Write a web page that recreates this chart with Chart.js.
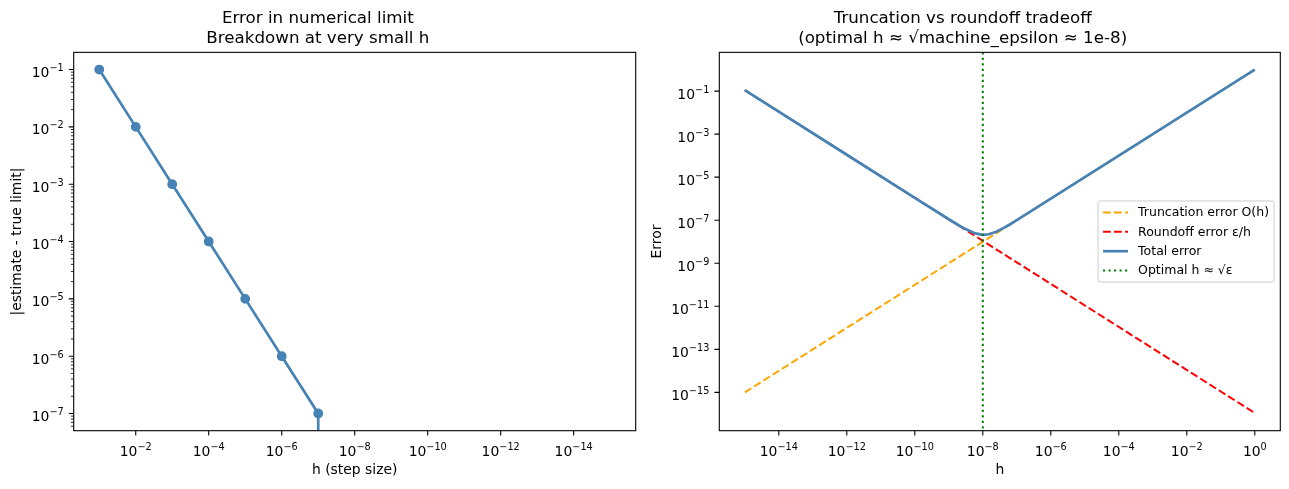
<!DOCTYPE html>
<html>
<head>
<meta charset="utf-8">
<script src="https://cdn.jsdelivr.net/npm/chart.js@4.4.1/dist/chart.umd.min.js"></script>
<style>
    body { margin: 0; background: #fff; }
    #wrap { position: relative; width: 1289px; height: 489px; }
    canvas { position: absolute; top: 0; }
</style>
</head>
<body>
<div id="wrap">
    <canvas id="limitChart" width="645" height="489" style="left:0"></canvas>
    <canvas id="tradeoffChart" width="644" height="489" style="left:645px"></canvas>
</div>
<script>
// 左图：数值极限误差
const limitH = [1e-1, 1e-2, 1e-3, 1e-4, 1e-5, 1e-6, 1e-7, 1e-8, 1e-9, 1e-10, 1e-11, 1e-12, 1e-13, 1e-14, 1e-15];
const limitErr = [1e-1, 1e-2, 1e-3, 1e-4, 1e-5, 1e-6, 1e-7, 0, 0, 0, 0, 0, 0, 0, 0];
const limitXTicks = [1e-2, 1e-4, 1e-6, 1e-8, 1e-10, 1e-12, 1e-14];
const limitYTicks = [1e-1, 1e-2, 1e-3, 1e-4, 1e-5, 1e-6, 1e-7];

// 右图：截断误差 vs 舍入误差
const lineH = [1e-15, 1];
const truncErr = [1e-15, 1];
const roundErr = [1.1e-1, 1.1e-16];
const totalH = [1e-15, 1e-12, 1e-10, 1e-9, 2e-9, 3e-9, 6e-9, 1e-8, 1.5e-8, 2.5e-8, 4e-8, 6e-8, 1e-7, 1e-6, 1e-3, 1];
const totalErr = [1.1e-1, 1.1e-4, 1.1e-6, 1.11e-7, 5.7e-8, 3.97e-8, 2.43e-8, 2.1e-8, 2.23e-8, 2.94e-8, 4.28e-8, 6.18e-8, 1.01e-7, 1e-6, 1e-3, 1];
const optimalH = 1e-8;
const tradeXTicks = [1e-14, 1e-12, 1e-10, 1e-8, 1e-6, 1e-4, 1e-2, 1];
const tradeYTicks = [1e-1, 1e-3, 1e-5, 1e-7, 1e-9, 1e-11, 1e-13, 1e-15];

const STEEL = '#4682B4';
const FONT = 'DejaVu Sans';
Chart.defaults.font.family = FONT;
Chart.defaults.color = '#000';

// 10^n 刻度标签（上标）
function drawPow(ctx, v, x, y, align) {
    const exp = Math.round(Math.log10(v));
    const base = '10';
    const sup = exp < 0 ? '\u2212' + Math.abs(exp) : String(exp);
    ctx.font = `13.9px "${FONT}"`;
    const wb = ctx.measureText(base).width;
    ctx.font = `9.7px "${FONT}"`;
    const ws = ctx.measureText(sup).width;
    const x0 = align === 'center' ? x - (wb + ws) / 2 : x - wb - ws;
    ctx.textAlign = 'left';
    ctx.textBaseline = 'alphabetic';
    ctx.font = `13.9px "${FONT}"`;
    ctx.fillText(base, x0, y);
    ctx.font = `9.7px "${FONT}"`;
    ctx.fillText(sup, x0 + wb, y - 6);
}

function drawLegend(chart) {
    const { ctx, chartArea: ca } = chart;
    const fs = 12.5;
    const items = chart.data.datasets;
    ctx.font = `${fs}px "${FONT}"`;
    const textW = Math.max(...items.map(d => ctx.measureText(d.label).width));
    const pad = 0.4 * fs, handleLen = 2 * fs, gap = 0.8 * fs, rowH = 13.1, spacing = 0.5 * fs;
    const w = pad + handleLen + gap + textW + pad;
    const h = 2 * pad + items.length * rowH + (items.length - 1) * spacing;
    const x0 = ca.right - 0.5 * fs - w;
    const y0 = (ca.top + ca.bottom) / 2 - h / 2;

    ctx.setLineDash([]);
    ctx.beginPath();
    ctx.roundRect(x0, y0, w, h, 2.5);
    ctx.fillStyle = 'rgba(255,255,255,0.8)';
    ctx.fill();
    ctx.strokeStyle = '#cccccc';
    ctx.lineWidth = 1;
    ctx.stroke();

    items.forEach((d, i) => {
        const cy = y0 + pad + rowH / 2 + i * (rowH + spacing);
        ctx.setLineDash(d.borderDash || []);
        ctx.strokeStyle = d.borderColor;
        ctx.lineWidth = d.borderWidth;
        ctx.beginPath();
        ctx.moveTo(x0 + pad, cy);
        ctx.lineTo(x0 + pad + handleLen, cy);
        ctx.stroke();
        ctx.setLineDash([]);
        ctx.fillStyle = '#000';
        ctx.textAlign = 'left';
        ctx.textBaseline = 'middle';
        ctx.fillText(d.label, x0 + pad + handleLen + gap, cy + 0.5);
    });
}

// matplotlib 风格的边框、刻度、标签
const mplAxes = {
    id: 'mplAxes',
    afterDatasetsDraw(chart, args, opts) {
        const { ctx, chartArea: ca } = chart;
        const xs = chart.scales.x, ys = chart.scales.y;
        ctx.save();
        ctx.strokeStyle = '#000';
        ctx.fillStyle = '#000';
        ctx.setLineDash([]);

        ctx.lineWidth = 1.1;
        ctx.beginPath();
        opts.xTicks.forEach(v => {
            const px = xs.getPixelForValue(v);
            ctx.moveTo(px, ca.bottom);
            ctx.lineTo(px, ca.bottom + 4.9);
        });
        opts.yTicks.forEach(v => {
            const py = ys.getPixelForValue(v);
            ctx.moveTo(ca.left - 4.9, py);
            ctx.lineTo(ca.left, py);
        });
        ctx.stroke();

        if (opts.yMinor) {
            ctx.lineWidth = 0.8;
            ctx.beginPath();
            for (let k = -8; k <= 0; k++) {
                for (let m = 2; m <= 9; m++) {
                    const v = m * Math.pow(10, k);
                    if (v < ys.min || v > ys.max) continue;
                    const py = ys.getPixelForValue(v);
                    ctx.moveTo(ca.left - 2.8, py);
                    ctx.lineTo(ca.left, py);
                }
            }
            ctx.stroke();
        }

        opts.xTicks.forEach(v => drawPow(ctx, v, xs.getPixelForValue(v), ca.bottom + 25, 'center'));
        opts.yTicks.forEach(v => drawPow(ctx, v, ca.left - 10, ys.getPixelForValue(v) + 7.5, 'right'));

        ctx.lineWidth = 1.1;
        ctx.strokeRect(ca.left, ca.top, ca.right - ca.left, ca.bottom - ca.top);

        if (opts.legend) drawLegend(chart);
        ctx.restore();
    }
};

function logScale(min, max, ticks, size, title, titlePad, extra) {
    return Object.assign({
        type: 'logarithmic',
        min: min,
        max: max,
        grid: { display: false },
        border: { display: false },
        ticks: { display: false },
        afterBuildTicks: s => { s.ticks = ticks.map(v => ({ value: v })); },
        title: { display: true, text: title, color: '#000', font: { size: 13.9 }, padding: titlePad }
    }, size, extra || {});
}

function titleOpts(lines) {
    return {
        display: true,
        text: lines,
        color: '#000',
        font: { size: 16.7, weight: 'normal', lineHeight: 1.22 },
        padding: { top: 8.1, bottom: 3.5 }
    };
}

new Chart(document.getElementById('limitChart'), {
    type: 'line',
    data: {
        datasets: [{
            label: 'error',
            // 对数轴上 0 值按 matplotlib 的方式裁剪到极小值
            data: limitH.map((h, i) => ({ x: h, y: limitErr[i] > 0 ? limitErr[i] : 1e-300 })),
            borderColor: STEEL,
            backgroundColor: STEEL,
            borderWidth: 2.7,
            pointRadius: limitErr.map(e => e > 0 ? 4.2 : 0),
            pointBorderWidth: limitErr.map(e => e > 0 ? 1.4 : 0),
            pointBorderColor: STEEL,
            pointBackgroundColor: STEEL
        }]
    },
    options: {
        responsive: false,
        animation: false,
        layout: { padding: { left: 0, right: 9.3, top: 0, bottom: 0 } },
        plugins: {
            legend: { display: false },
            tooltip: { enabled: false },
            title: titleOpts(['Error in numerical limit', 'Breakdown at very small h']),
            mplAxes: { xTicks: limitXTicks, yTicks: limitYTicks, yMinor: true }
        },
        scales: {
            x: logScale(Math.pow(10, -15.7), Math.pow(10, -0.3), limitXTicks,
                { afterFit: s => { s.height = 58.3; } }, 'h (step size)', { top: 0, bottom: 10 }, { reverse: true }),
            y: logScale(Math.pow(10, -7.3), Math.pow(10, -0.7), limitYTicks,
                { afterFit: s => { s.width = 73.7; } }, '|estimate - true limit|', { top: 8.7, bottom: 0 })
        }
    },
    plugins: [mplAxes]
});

const tradeYMin = Math.pow(10, -16.78), tradeYMax = Math.pow(10, 0.8);

new Chart(document.getElementById('tradeoffChart'), {
    type: 'line',
    data: {
        datasets: [{
            label: 'Truncation error O(h)',
            data: lineH.map((h, i) => ({ x: h, y: truncErr[i] })),
            borderColor: '#FFA500',
            borderWidth: 2,
            borderDash: [7.7, 3.3],
            pointRadius: 0,
            order: 4
        }, {
            label: 'Roundoff error \u03b5/h',
            data: lineH.map((h, i) => ({ x: h, y: roundErr[i] })),
            borderColor: '#FF0000',
            borderWidth: 2,
            borderDash: [7.7, 3.3],
            pointRadius: 0,
            order: 3
        }, {
            label: 'Total error',
            data: totalH.map((h, i) => ({ x: h, y: totalErr[i] })),
            borderColor: STEEL,
            borderWidth: 2.7,
            pointRadius: 0,
            order: 2
        }, {
            label: 'Optimal h \u2248 \u221a\u03b5',
            data: [{ x: optimalH, y: tradeYMax }, { x: optimalH, y: tradeYMin }],
            borderColor: '#008000',
            borderWidth: 2,
            borderDash: [2.1, 3.4],
            pointRadius: 0,
            order: 1
        }]
    },
    options: {
        responsive: false,
        animation: false,
        layout: { padding: { left: 0, right: 8.7, top: 0, bottom: 0 } },
        plugins: {
            legend: { display: false },
            tooltip: { enabled: false },
            title: titleOpts(['Truncation vs roundoff tradeoff', '(optimal h \u2248 \u221amachine_epsilon \u2248 1e-8)']),
            mplAxes: { xTicks: tradeXTicks, yTicks: tradeYTicks, yMinor: false, legend: true }
        },
        scales: {
            x: logScale(Math.pow(10, -15.75), Math.pow(10, 0.75), tradeXTicks,
                { afterFit: s => { s.height = 58.3; } }, 'h', { top: 0, bottom: 10 }),
            y: logScale(tradeYMin, tradeYMax, tradeYTicks,
                { afterFit: s => { s.width = 74.3; } }, 'Error', { top: 3.7, bottom: 0 })
        }
    },
    plugins: [mplAxes]
});
</script>
</body>
</html>
